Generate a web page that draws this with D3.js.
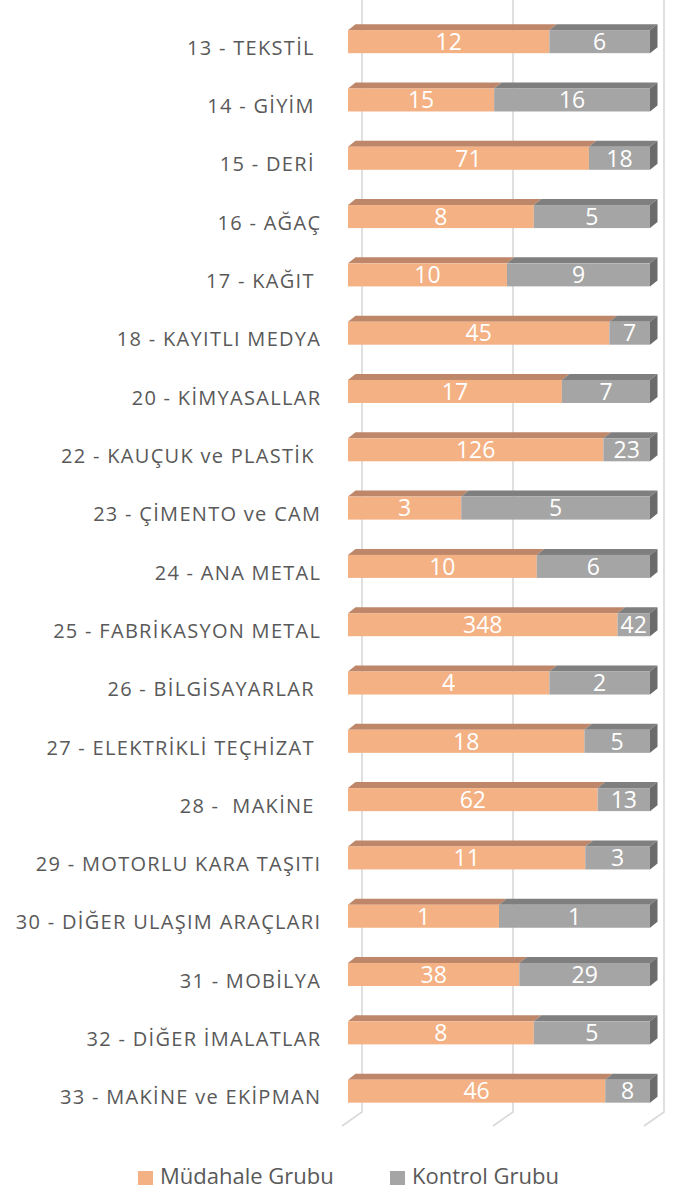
<!DOCTYPE html>
<html>
<head>
<meta charset="utf-8">
<script src="https://cdn.jsdelivr.net/npm/d3@7"></script>
<style>
  body { margin: 0; background: #fff; }
  text { font-family: 'Open Sans', sans-serif; white-space: pre; }
</style>
</head>
<body>
<svg id="chart" width="684" height="1191"></svg>
<script>
var categories = [
  "13 - TEKSTİL ", "14 - GİYİM ", "15 - DERİ ", "16 - AĞAÇ", "17 - KAĞIT ",
  "18 - KAYITLI MEDYA", "20 - KİMYASALLAR", "22 - KAUÇUK ve PLASTİK ",
  "23 - ÇİMENTO ve CAM", "24 - ANA METAL", "25 - FABRİKASYON METAL",
  "26 - BİLGİSAYARLAR ", "27 - ELEKTRİKLİ TEÇHİZAT ", "28 -  MAKİNE ",
  "29 - MOTORLU KARA TAŞITI", "30 - DİĞER ULAŞIM ARAÇLARI", "31 - MOBİLYA",
  "32 - DİĞER İMALATLAR", "33 - MAKİNE ve EKİPMAN"
];
var mudahale = [12, 15, 71, 8, 10, 45, 17, 126, 3, 10, 348, 4, 18, 62, 11, 1, 38, 8, 46];
var kontrol  = [6, 16, 18, 5, 9, 7, 7, 23, 5, 6, 42, 2, 5, 13, 3, 1, 29, 5, 8];
var seriesNames = ["Müdahale Grubu", "Kontrol Grubu"];
var gridTicks = [0, 0.5, 1];

var front = ["#F4B183", "#A5A5A5"],
    topFace = ["#BF876A", "#7F7F7F"],
    sideFace = "#6B6B6B";

var svg = d3.select("#chart");
var depth = {dx: 7.5, dy: -6};

var x = d3.scaleLinear().domain([0, 1]).range([348, 650]);
var y = d3.scaleBand().domain(categories).range([12.5, 1120.3])
    .paddingInner(0.605).paddingOuter(0.3025);

var rows = categories.map(function(c, i) {
  var tot = mudahale[i] + kontrol[i];
  return {cat: c, segs: [
    {s: 0, v: mudahale[i], x0: 0, x1: mudahale[i] / tot},
    {s: 1, v: kontrol[i], x0: mudahale[i] / tot, x1: 1}
  ]};
});

// back wall gridlines + floor diagonals
var floorY = 1112;
var grid = svg.append("g").attr("class", "grid");
gridTicks.forEach(function(t) {
  var gx = x(t) + 14;
  grid.append("path")
    .attr("d", "M" + gx + ",0 L" + gx + "," + floorY + " L" + (gx - 20) + "," + (floorY + 14))
    .attr("fill", "none")
    .attr("stroke", "#D9D9D9")
    .attr("stroke-width", 1.6);
});

// bars
var bars = svg.append("g").selectAll(".row")
    .data(rows)
  .enter().append("g")
    .attr("class", "row");

bars.each(function(r) {
  var g = d3.select(this), y0 = y(r.cat), h = y.bandwidth();
  r.segs.forEach(function(d) {
    var a = x(d.x0), b = x(d.x1);
    g.append("polygon")
      .attr("points", [[a, y0], [a + depth.dx, y0 + depth.dy], [b + depth.dx, y0 + depth.dy], [b, y0]].join(" "))
      .attr("fill", topFace[d.s]);
  });
  var xe = x(1);
  g.append("polygon")
    .attr("points", [[xe, y0], [xe + depth.dx, y0 + depth.dy], [xe + depth.dx, y0 + h + depth.dy], [xe, y0 + h]].join(" "))
    .attr("fill", sideFace);
  r.segs.forEach(function(d) {
    g.append("rect")
      .attr("x", x(d.x0))
      .attr("y", y0)
      .attr("width", x(d.x1) - x(d.x0))
      .attr("height", h)
      .attr("fill", front[d.s]);
    g.append("text")
      .attr("x", (x(d.x0) + x(d.x1)) / 2)
      .attr("y", y0 + h / 2)
      .attr("dy", "0.36em")
      .attr("text-anchor", "middle")
      .style("fill", "#fff")
      .style("font-size", "23px")
      .text(d.v);
  });
});

// category labels
svg.append("g").selectAll("text")
    .data(categories)
  .enter().append("text")
    .attr("x", 321.3)
    .attr("y", function(d) { return y(d) + y.bandwidth() / 2 + 6; })
    .attr("dy", "0.36em")
    .attr("text-anchor", "end")
    .style("fill", "#595959")
    .style("font-size", "20px")
    .style("letter-spacing", "1.3px")
    .text(function(d) { return d; });

// legend
var legend = svg.append("g").selectAll(".lg")
    .data(seriesNames)
  .enter().append("g")
    .attr("transform", function(d, i) { return "translate(" + (138 + i * 252) + ",1171)"; });
legend.append("rect")
    .attr("width", 15).attr("height", 14)
    .attr("fill", function(d, i) { return front[i]; });
legend.append("text")
    .attr("x", 22).attr("y", 13)
    .style("fill", "#595959")
    .style("font-size", "22px")
    .text(function(d) { return d; });
</script>
</body>
</html>
